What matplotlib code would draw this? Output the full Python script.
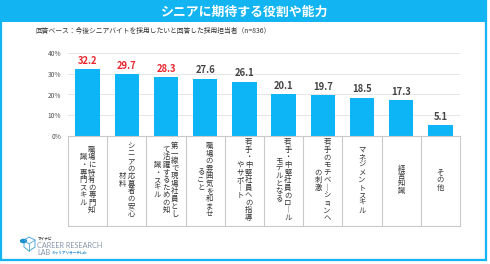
import matplotlib
matplotlib.use("Agg")
import matplotlib.pyplot as plt
from matplotlib.patches import Rectangle, Polygon, Circle
from matplotlib.lines import Line2D

plt.rcParams['font.family'] = ['Noto Sans CJK JP', 'DejaVu Sans']

title = "シニアに期待する役割や能力"
subtitle = "回答ベース：今後シニアバイトを採用したいと回答した採用担当者（n=836）"
# label columns (read right-to-left in vertical writing)
label_cols = [
    ["職場に特有の専門知", "識・専門スキル"],
    ["シニアの応募者の安心", "材料"],
    ["第一線で現場社員とし", "て活躍するための知", "識・スキル"],
    ["職場の雰囲気を和ませ", "ること"],
    ["若手・中堅社員への指導", "やサポート"],
    ["若手・中堅社員のロール", "モデルとなる"],
    ["若手のモチベーションへ", "の刺激"],
    ["マネジメントスキル"],
    ["経営知識"],
    ["その他"],
]
values = [32.2, 29.7, 28.3, 27.6, 26.1, 20.1, 19.7, 18.5, 17.3, 5.1]
highlight = [True, True, True, False, False, False, False, False, False, False]
yticks = [0, 10, 20, 30, 40]
ytick_labels = ["0%", "10%", "20%", "30%", "40%"]

W, H = 490, 264
BLUE = '#12b4f2'
BAR = '#0db5f6'
fig = plt.figure(figsize=(W / 100, H / 100), dpi=100)
fig.patch.set_facecolor('white')

def fx(x):
    return x / W

def fy(y):
    return 1 - y / H

# frame and banner
fig.add_artist(Rectangle((fx(1), fy(260)), fx(485), (259) / H, transform=fig.transFigure,
                         fill=False, edgecolor=BLUE, linewidth=1.6))
fig.add_artist(Rectangle((fx(0.5), fy(22)), fx(486), 22 / H, transform=fig.transFigure,
                         facecolor=BLUE, edgecolor='none'))
fig.text(fx(245), fy(12), title, color='white', fontsize=9.3, fontweight='bold',
         ha='center', va='center')
fig.text(fx(35), fy(30.5), subtitle, color='#333333', fontsize=4.9, ha='left', va='center')

# main axes
x0, x1 = 68, 460
y_top, y_zero = 53, 136
ax = fig.add_axes([fx(x0), fy(y_zero), (x1 - x0) / W, (y_zero - y_top) / H])
n = len(values)
xs = list(range(n))
ax.bar(xs, values, width=0.62, color=BAR, zorder=3)
ax.set_xlim(-0.5, n - 0.5)
ax.set_ylim(0, 40)
ax.set_yticks(yticks)
ax.set_yticklabels(ytick_labels)
ax.tick_params(axis='y', length=0, pad=5, labelsize=4.8, labelcolor='#555555')
ax.tick_params(axis='x', length=0, labelbottom=False)
ax.grid(axis='y', color='#e6e6e6', linewidth=0.7, zorder=0)
for s in ax.spines.values():
    s.set_visible(False)
for xi, v, h in zip(xs, values, highlight):
    ax.annotate(f"{v:.1f}", (xi, v), xytext=(0, 2.5), textcoords='offset points',
                ha='center', va='bottom', fontsize=6.8, fontweight='bold',
                color='#e8262d' if h else '#444444')

# table with vertical labels
tb_top, tb_bot = 136, 226
tax = fig.add_axes([fx(x0), fy(tb_bot), (x1 - x0) / W, (tb_bot - tb_top) / H])
tax.set_xlim(-0.5, n - 0.5)
tax.set_ylim(1, 0)
tax.axis('off')
gc = '#c9c9c9'
tax.plot([-0.5, n - 0.5], [0, 0], color=gc, lw=0.8, clip_on=False)
tax.plot([-0.5, n - 0.5], [1, 1], color=gc, lw=0.8, clip_on=False)
for i in range(n + 1):
    tax.plot([i - 0.5, i - 0.5], [0, 1], color=gc, lw=0.8, clip_on=False)

col_step = 8.6 / ((x1 - x0) / n)

def vert(s):
    return "\n".join(('｜' if c == 'ー' else c) for c in s)

for i, cols in enumerate(label_cols):
    k = len(cols)
    for j, col in enumerate(cols):
        off = ((k - 1) / 2 - j) * col_step
        tax.text(i + off, 0.49, vert(col), ha='center', va='center', multialignment='center',
                 fontsize=5.3, color='#333333', linespacing=0.93)

# logo
lc = '#4fa9d8'
hexpts = [(24, 240), (29, 237), (35, 240), (35, 247), (29, 251), (24, 247)]
fig.add_artist(Polygon([(fx(a), fy(b)) for a, b in hexpts], closed=True, fill=False,
                       edgecolor=lc, linewidth=0.7, transform=fig.transFigure))
fig.add_artist(Line2D([fx(29), fx(29)], [fy(244), fy(251)], color=lc, lw=0.6, transform=fig.transFigure))
fig.add_artist(Line2D([fx(24), fx(29), fx(35)], [fy(240), fy(244), fy(240)], color=lc, lw=0.6,
                      transform=fig.transFigure))
fig.add_artist(Circle((fx(23.5), fy(241)), 0.006, color='#1a8fd0', transform=fig.transFigure))
fig.text(fx(38), fy(239.5), "マイナビ", fontsize=2.6, color='#333333', ha='left', va='center',
         fontweight='bold')
fig.text(fx(37), fy(245.5), "CAREER RESEARCH", fontsize=5.2, color='#8795a8', ha='left',
         va='center', family='Lato')
fig.text(fx(37), fy(252.5), "LAB", fontsize=5.2, color='#8795a8', ha='left', va='center',
         family='Lato')
fig.text(fx(52), fy(252.5), "キャリアリサーチLab", fontsize=2.6, color='#2d8fd0', ha='left',
         va='center', fontweight='bold')

fig.savefig("out.png", dpi=100, facecolor='white')
